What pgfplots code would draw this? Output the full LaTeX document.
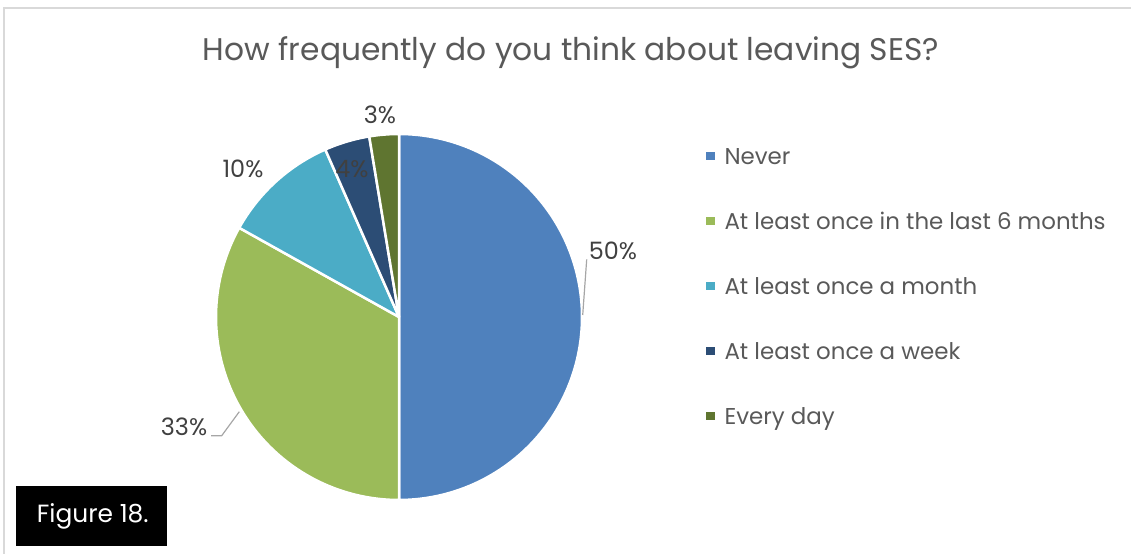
\documentclass[border=0pt]{standalone}
\usepackage{fontspec}
\setmainfont{Poppins}
\usepackage{pgfplots}
\pgfplotsset{compat=1.18}
\definecolor{cNever}{HTML}{4F81BD}
\definecolor{cSix}{HTML}{9BBB59}
\definecolor{cMonth}{HTML}{4BACC6}
\definecolor{cWeek}{HTML}{2C4D75}
\definecolor{cDay}{HTML}{5F7530}
\definecolor{cTitle}{HTML}{595959}
\definecolor{cLabel}{HTML}{404040}
\definecolor{cLeader}{HTML}{A6A6A6}
\definecolor{cFrame}{HTML}{D9D9D9}
% shares in percent
\def\vNever{50.0}
\def\vSix{33.1}
\def\vMonth{10.3}
\def\vWeek{4.0}
\def\vDay{2.6}
\begin{document}
\begin{tikzpicture}[x=1bp,y=1bp]
\pgfmathsetmacro\aA{-90}
\pgfmathsetmacro\aB{\aA+3.6*\vNever}
\pgfmathsetmacro\aC{\aB+3.6*\vSix}
\pgfmathsetmacro\aD{\aC+3.6*\vMonth}
\pgfmathsetmacro\aE{\aD+3.6*\vWeek}
\pgfmathsetmacro\aF{\aE+3.6*\vDay}
\useasboundingbox (0,0) rectangle (1131,554);
\begin{axis}[at={(0,0)}, anchor=south west,
  width=1131bp, height=554bp, scale only axis,
  xmin=0, xmax=1131, ymin=0, ymax=554, y dir=reverse,
  hide axis, clip=false,
  legend cell align=left,
  legend image code/.code={\fill[#1, draw=none] (0bp,-4.2bp) rectangle (8.4bp,4.2bp); \path (17bp,0bp);},
  legend style={draw=none, fill=none, at={(0.6243,0.7776)}, anchor=north west,
    inner sep=0pt, row sep=0pt, column sep=0pt,
    nodes={inner sep=0pt, text height=40.85bp, text depth=24.15bp,
      font=\fontsize{23}{28}\selectfont, text=cTitle}},
]
\addplot[fill=cNever, draw=white, line width=2.5bp, line join=round, domain=\aA:\aB, samples=150]
  ({399+183*cos(x)},{317+183*sin(x)}) -- (axis cs:399,317) -- cycle;
\addlegendentry{Never}
\addplot[fill=cSix, draw=white, line width=2.5bp, line join=round, domain=\aB:\aC, samples=120]
  ({399+183*cos(x)},{317+183*sin(x)}) -- (axis cs:399,317) -- cycle;
\addlegendentry{At least once in the last 6 months}
\addplot[fill=cMonth, draw=white, line width=2.5bp, line join=round, domain=\aC:\aD, samples=60]
  ({399+183*cos(x)},{317+183*sin(x)}) -- (axis cs:399,317) -- cycle;
\addlegendentry{At least once a month}
\addplot[fill=cWeek, draw=white, line width=2.5bp, line join=round, domain=\aD:\aE, samples=30]
  ({399+183*cos(x)},{317+183*sin(x)}) -- (axis cs:399,317) -- cycle;
\addlegendentry{At least once a week}
\addplot[fill=cDay, draw=white, line width=2.5bp, line join=round, domain=\aE:\aF, samples=30]
  ({399+183*cos(x)},{317+183*sin(x)}) -- (axis cs:399,317) -- cycle;
\addlegendentry{Every day}
% frame
\draw[cFrame, line width=1.5bp] (axis cs:4,554) -- (axis cs:4,8) -- (axis cs:1131,8);
% title
\node[anchor=base, text=cTitle, font=\fontsize{31.4}{36}\selectfont, inner sep=0pt]
  at (axis cs:571,61) {How frequently do you think about leaving SES?};
% leader lines
\draw[cLeader, line width=1.2bp] (axis cs:586.7,259.3) -- (axis cs:582.7,315);
\draw[cLeader, line width=1.2bp] (axis cs:239.3,411.7) -- (axis cs:221.7,435.7) -- (axis cs:211,435.7);
% data labels
\tikzset{lbl/.style={anchor=base, text=cLabel, font=\fontsize{24}{28}\selectfont, inner sep=0pt}}
\node[lbl] at (axis cs:613,259.3) {50\%};
\node[lbl] at (axis cs:184,435.7) {33\%};
\node[lbl] at (axis cs:243,177.3) {10\%};
\node[lbl] at (axis cs:352,177.3) {4\%};
\node[lbl] at (axis cs:380,123.3) {3\%};
% figure tag
\fill[black] (axis cs:15.7,485.7) rectangle (axis cs:167.3,546);
\node[anchor=base, text=white, font=\fontsize{25}{30}\selectfont, inner sep=0pt]
  at (axis cs:92.8,522.7) {Figure 18.};
\end{axis}
\end{tikzpicture}
\end{document}
